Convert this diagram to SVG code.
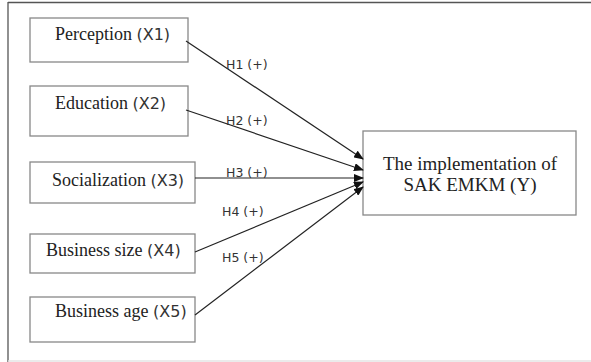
<svg xmlns="http://www.w3.org/2000/svg" width="591" height="362" viewBox="0 0 591 362">
<defs>
<marker id="ah" markerWidth="10" markerHeight="8" refX="9" refY="4" orient="auto" markerUnits="userSpaceOnUse">
<path d="M0,0 L10,4 L0,8 Z" fill="#111"/>
</marker>
<style>
.box{fill:#fff;stroke:#888;stroke-width:1.3}
.frame{stroke:#555;stroke-width:1.3;fill:none}
.serif{font-family:"Liberation Serif","Times New Roman",serif;fill:#222}
.sans{font-family:"DejaVu Sans","Liberation Sans",sans-serif;fill:#333}
.lbl{font-family:"DejaVu Sans","Liberation Sans",sans-serif;font-size:12.5px;fill:#333}
.conn{stroke:#222;stroke-width:1.2;fill:none;marker-end:url(#ah)}
</style>
</defs>
<rect width="591" height="362" fill="#fff"/>
<g id="frame">
<line class="frame" x1="8" y1="2.5" x2="591" y2="2.5"/>
<line class="frame" x1="8" y1="2" x2="8" y2="362"/>
<line x1="8" y1="361" x2="591" y2="361" stroke="#e4e4e4" stroke-width="1.5"/>
</g>
<g id="x1">
<rect class="box" x="30" y="18" width="158" height="44"/>
<text x="55" y="40" font-size="18"><tspan class="serif">Perception </tspan><tspan class="sans" font-size="16">(X1)</tspan></text>
</g>
<g id="x2">
<rect class="box" x="30" y="86" width="158" height="50"/>
<text x="55" y="109" font-size="18"><tspan class="serif">Education </tspan><tspan class="sans" font-size="16">(X2)</tspan></text>
</g>
<g id="x3">
<rect class="box" x="30" y="162" width="165" height="41"/>
<text x="52" y="186" font-size="18"><tspan class="serif">Socialization </tspan><tspan class="sans" font-size="16">(X3)</tspan></text>
</g>
<g id="x4">
<rect class="box" x="30" y="234" width="165" height="39"/>
<text x="46" y="256" font-size="18"><tspan class="serif">Business size </tspan><tspan class="sans" font-size="16">(X4)</tspan></text>
</g>
<g id="x5">
<rect class="box" x="30" y="297" width="165" height="45"/>
<text x="55" y="317" font-size="18"><tspan class="serif">Business age </tspan><tspan class="sans" font-size="16">(X5)</tspan></text>
</g>
<g id="y">
<rect class="box" x="363" y="131" width="213" height="84"/>
<text class="serif" x="470" y="170" font-size="19" text-anchor="middle">The implementation of</text>
<text class="serif" x="470" y="191" font-size="19" text-anchor="middle">SAK EMKM (Y)</text>
</g>
<g id="connectors">
<line class="conn" x1="186" y1="41" x2="363" y2="159"/>
<line class="conn" x1="186" y1="110" x2="363" y2="170"/>
<line class="conn" x1="195" y1="178" x2="363" y2="178"/>
<line class="conn" x1="195" y1="252" x2="363" y2="182"/>
<line class="conn" x1="195" y1="315" x2="363" y2="187"/>
<text class="lbl" x="226" y="69">H1 (+)</text>
<text class="lbl" x="226" y="125">H2 (+)</text>
<text class="lbl" x="226" y="177">H3 (+)</text>
<text class="lbl" x="222" y="216">H4 (+)</text>
<text class="lbl" x="222" y="262">H5 (+)</text>
</g>
</svg>
